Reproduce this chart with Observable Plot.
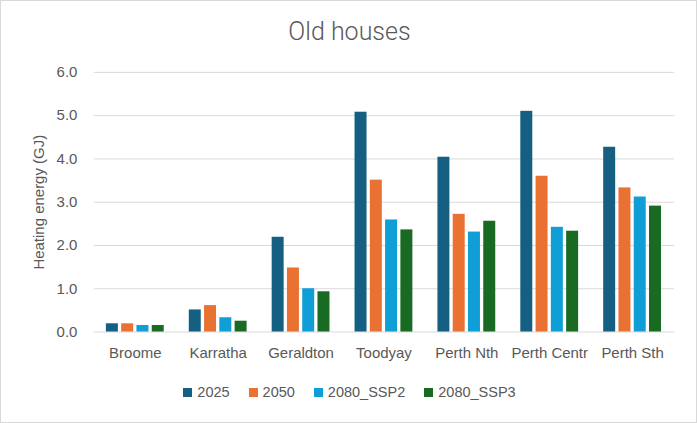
<!DOCTYPE html>
<html><head><meta charset="utf-8">
<script src="https://cdn.jsdelivr.net/npm/d3@7"></script>
<script src="https://cdn.jsdelivr.net/npm/@observablehq/plot@0.6"></script>
<style>
html,body{margin:0;padding:0;background:#fff;}
#wrap{position:relative;width:697px;height:423px;box-sizing:border-box;border:1px solid #d9d9d9;overflow:hidden;font-family:"Liberation Sans",Arial,sans-serif;}
#title{position:absolute;left:0;top:16px;width:697px;text-align:center;font-size:25px;line-height:30px;color:#595959;font-family:Roboto,"Liberation Sans",sans-serif;font-weight:300;}
#chart{position:absolute;left:-1px;top:-1px;}
#legend{position:absolute;left:0;top:383px;width:697px;display:flex;justify-content:center;gap:19px;font-size:14.5px;color:#595959;}
#legend span.sw{display:inline-block;width:9px;height:9px;margin-right:5px;vertical-align:0px;}
</style></head>
<body>
<div id="wrap">
<div id="title">Old houses</div>
<div id="chart"></div>
<div id="legend"></div>
</div>
<script>
const cities = ["Broome","Karratha","Geraldton","Toodyay","Perth Nth","Perth Centr","Perth Sth"];
const seriesNames = ["2025","2050","2080_SSP2","2080_SSP3"];
const v2025 = [0.19, 0.51, 2.19, 5.08, 4.04, 5.10, 4.27];
const v2050 = [0.19, 0.61, 1.48, 3.51, 2.72, 3.60, 3.33];
const vSSP2 = [0.15, 0.33, 1.00, 2.59, 2.31, 2.42, 3.12];
const vSSP3 = [0.15, 0.25, 0.93, 2.36, 2.56, 2.33, 2.91];
const colors = ["#156082","#E97132","#0F9ED5","#196B24"];
const yTicks = [0,1,2,3,4,5,6];

const seriesVals = [v2025, v2050, vSSP2, vSSP3];
const rowsFor = (j) => cities.map((c,i)=>({city:c, series:seriesNames[j], value:seriesVals[j][i]}));

// each city band holds one bar's width; the four series are shifted side by side
const barStep = 15.3;
const chart = Plot.plot({
  width: 697, height: 423,
  marginTop: 72, marginBottom: 91, marginLeft: 94, marginRight: 22,
  style: {fontFamily: '"Liberation Sans", Arial, sans-serif', fontSize: "15px", color: "#595959", background: "transparent"},
  x: {domain: cities, paddingInner: 0.853, paddingOuter: 0.4265, label: null},
  y: {domain: [0,6], ticks: yTicks, tickFormat: d3.format(".1f"), label: null},
  color: {domain: seriesNames, range: colors},
  marks: [
    Plot.ruleY(yTicks, {stroke: "#d9d9d9", strokeWidth: 1}),
    ...seriesNames.map((s,j)=>Plot.barY(rowsFor(j), {x: "city", y: "value", fill: "series", dx: (j-1.5)*barStep})),
    Plot.axisY(yTicks, {tickSize: 0, tickPadding: 17, tickFormat: d3.format(".1f"), fontSize: 15, fill: "#595959", label: null}),
    Plot.axisX({tickSize: 0, tickPadding: 15, fontSize: 15, fill: "#595959", label: null}),
    Plot.text(["Heating energy (GJ)"], {frameAnchor: "left", textAnchor: "middle", dx: -55, rotate: -90, fontSize: 15, fill: "#595959"})
  ]
});
document.getElementById("chart").appendChild(chart);

const lg = document.getElementById("legend");
seriesNames.forEach((s,i)=>{
  const d = document.createElement("div");
  d.innerHTML = `<span class="sw" style="background:${colors[i]}"></span>${s}`;
  lg.appendChild(d);
});
</script>
</body></html>
